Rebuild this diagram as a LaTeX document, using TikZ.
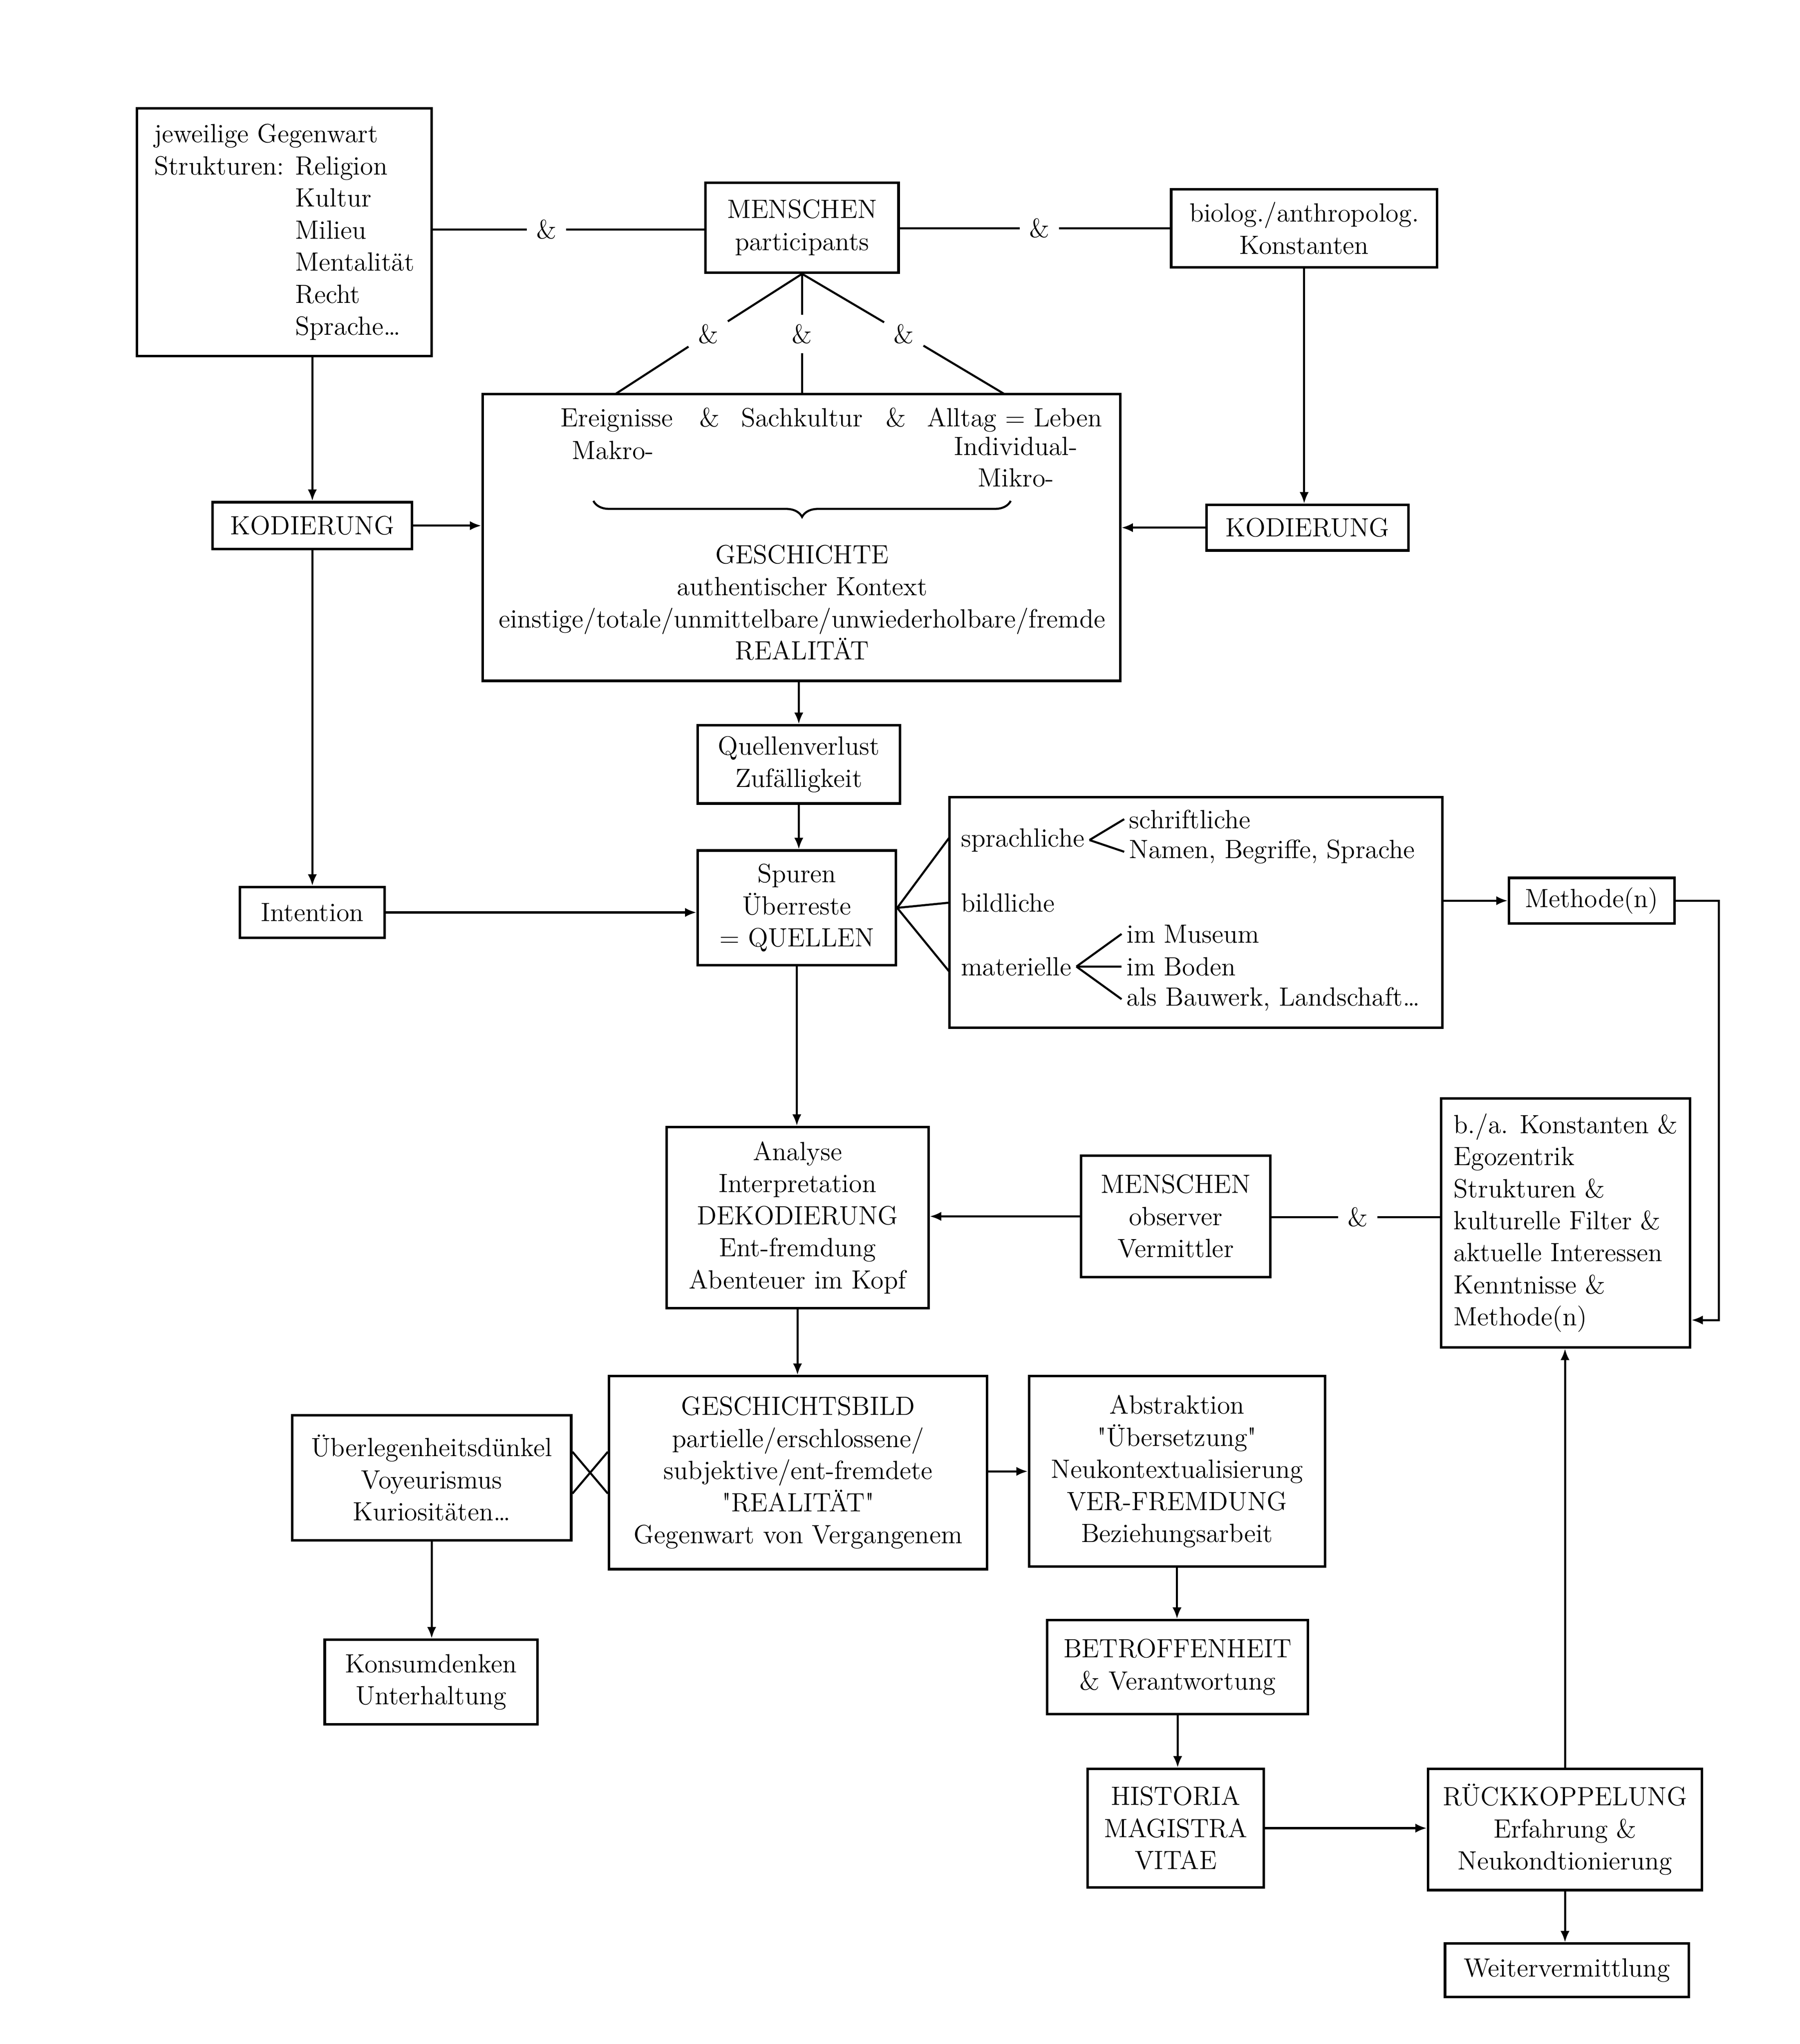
\documentclass[tikz,border=0pt]{standalone}
\usepackage{tikz}
\usetikzlibrary{calc,arrows.meta,decorations.pathreplacing}

\begin{document}
\begin{tikzpicture}[x=0.02cm, y=-0.02cm,
    box/.style={draw, line width=1.1pt, inner sep=0pt, align=center, font=\fontsize{11.5}{14}\selectfont},
    txt/.style={inner sep=2pt, font=\fontsize{11.5}{14}\selectfont},
    amp/.style={inner sep=4pt, font=\fontsize{11.5}{14}\selectfont},
    con/.style={line width=0.9pt},
    arr/.style={line width=0.9pt, -{Latex[length=5pt,width=4pt]}}]
  % frame
  \useasboundingbox (0,0) rectangle (1380,1567);
  % upper row
  \node[box, align=left, minimum width=4.52cm, minimum height=3.8cm] (gegenwart) at (218,178)
    {jeweilige Gegenwart\\Strukturen: Religion\\\phantom{Strukturen: }Kultur\\\phantom{Strukturen: }Milieu\\\phantom{Strukturen: }Mentalität\\\phantom{Strukturen: }Recht\\\phantom{Strukturen: }Sprache\dots};
  \node[box, minimum width=2.96cm, minimum height=1.38cm] (menschen1) at (615,174.5) {MENSCHEN\\participants};
  \node[box, minimum width=4.08cm, minimum height=1.2cm] (konstanten) at (1000,175) {biolog./anthropolog.\\Konstanten};
  \node[amp] (amp1) at (419,176) {\&};
  \node[amp] (amp2) at (797,175) {\&};
  \draw[con] (gegenwart.east |- amp1) -- (amp1) -- (amp1 -| menschen1.west);
  \draw[con] (menschen1.east |- amp2) -- (amp2) -- (amp2 -| konstanten.west);
  % geschichte
  \node[box, minimum width=9.78cm, minimum height=4.4cm] (geschichte) at (614.5,412) {};
  \coordinate (g-left) at (472,302);
  \coordinate (g-mid) at (615,302);
  \coordinate (g-right) at (770,302);
  \node[amp] (amp3) at (543,256) {\&};
  \node[amp] (amp4) at (615,256) {\&};
  \node[amp] (amp5) at (693,256) {\&};
  \draw[con] (menschen1.south) -- (amp3) -- (g-left);
  \draw[con] (menschen1.south) -- (amp4) -- (g-mid);
  \draw[con] (menschen1.south) -- (amp5) -- (g-right);
  \node[txt, anchor=base] (ereignisse) at (473,327) {Ereignisse};
  \node[txt, anchor=base] (amp6) at (544,327) {\&};
  \node[txt, anchor=base] (sachkultur) at (615,327) {Sachkultur};
  \node[txt, anchor=base] (amp7) at (687,327) {\&};
  \node[txt, anchor=base] (alltag) at (778,327) {Alltag = Leben};
  \node[txt, anchor=base] (makro) at (470,352) {Makro-};
  \node[txt, anchor=base] (individual) at (779,349) {Individual-};
  \node[txt, anchor=base] (mikro) at (779,373) {Mikro-};
  \coordinate (brace-l) at (455,384);
  \coordinate (brace-r) at (775,384);
  \draw[con, decorate, decoration={brace, mirror, amplitude=7pt}] (brace-l) -- (brace-r);
  \node[txt, align=center] (realitaet) at (615,462)
    {GESCHICHTE\\authentischer Kontext\\einstige/totale/unmittelbare/unwiederholbare/fremde\\REALITÄT};
  % kodierung
  \node[box, minimum width=3.06cm, minimum height=0.72cm] (kodL) at (239.5,403) {KODIERUNG};
  \node[box, minimum width=3.1cm, minimum height=0.7cm] (kodR) at (1002.5,404.5) {KODIERUNG};
  \draw[arr] (kodL.north |- gegenwart.south) -- (kodL.north);
  \draw[arr] (konstanten.south) -- (konstanten.south |- kodR.north);
  \draw[arr] (kodL.east) -- (kodL.east -| geschichte.west);
  \draw[arr] (kodR.west) -- (kodR.west -| geschichte.east);
  % quellen
  \node[box, minimum width=3.1cm, minimum height=1.2cm] (verlust) at (612.5,586) {Quellenverlust\\Zufälligkeit};
  \node[box, minimum width=3.04cm, minimum height=1.76cm] (spuren) at (611,696) {Spuren\\Überreste\\= QUELLEN};
  \node[box, minimum width=2.22cm, minimum height=0.78cm] (intention) at (239.5,699.5) {Intention};
  \draw[arr] (verlust.north |- geschichte.south) -- (verlust.north);
  \draw[arr] (verlust.south) -- (verlust.south |- spuren.north);
  \draw[arr] (kodL.south) -- (intention.north);
  \draw[arr] (intention.east) -- (intention.east -| spuren.west);
  % arten der quellen
  \node[box, minimum width=7.56cm, minimum height=3.54cm] (arten) at (917,699.5) {};
  \coordinate (a-top) at (728,642);
  \coordinate (a-mid) at (728,692);
  \coordinate (a-bot) at (728,745);
  \draw[con] (spuren.east) -- (a-top);
  \draw[con] (spuren.east) -- (a-mid);
  \draw[con] (spuren.east) -- (a-bot);
  \node[txt, anchor=west] (sprachliche) at (733,644) {sprachliche};
  \node[txt, anchor=west] (schriftliche) at (862,628) {schriftliche};
  \node[txt, anchor=west] (namen) at (862,653) {Namen, Begriffe, Sprache};
  \node[txt, anchor=west] (bildliche) at (733,692) {bildliche};
  \node[txt, anchor=west] (materielle) at (733,741) {materielle};
  \node[txt, anchor=west] (museum) at (860,716) {im Museum};
  \node[txt, anchor=west] (boden) at (860,741) {im Boden};
  \node[txt, anchor=west] (bauwerk) at (860,766) {als Bauwerk, Landschaft\dots};
  \draw[con] (sprachliche.east) -- (schriftliche.west);
  \draw[con] (sprachliche.east) -- (namen.west);
  \draw[con] (materielle.east) -- (museum.west);
  \draw[con] (materielle.east) -- (boden.west);
  \draw[con] (materielle.east) -- (bauwerk.west);
  % methode
  \node[box, minimum width=2.54cm, minimum height=0.7cm] (methode) at (1220.5,690.5) {Methode(n)};
  \coordinate (m-right) at (1318,1012);
  \draw[arr] (arten.east |- methode.west) -- (methode.west);
  \node[box, align=left, minimum width=3.82cm, minimum height=3.82cm] (filter) at (1200.5,937.5)
    {b./a. Konstanten \&\\Egozentrik\\Strukturen \&\\kulturelle Filter \&\\aktuelle Interessen\\Kenntnisse \&\\Methode(n)};
  \draw[arr] (methode.east) -| (m-right) -- (m-right -| filter.east);
  % dekodierung
  \node[box, minimum width=4.02cm, minimum height=2.78cm] (dekodierung) at (611.5,933.5)
    {Analyse\\Interpretation\\DEKODIERUNG\\Ent-fremdung\\Abenteuer im Kopf};
  \node[box, minimum width=2.9cm, minimum height=1.86cm] (menschen2) at (901.5,932.5) {MENSCHEN\\observer\\Vermittler};
  \node[amp] (amp8) at (1041,933) {\&};
  \draw[arr] (spuren.south) -- (spuren.south |- dekodierung.north);
  \draw[arr] (menschen2.west) -- (menschen2.west -| dekodierung.east);
  \draw[con] (menschen2.east |- amp8) -- (amp8) -- (amp8 -| filter.west);
  % geschichtsbild
  \node[box, minimum width=5.8cm, minimum height=2.96cm] (bild) at (612,1129)
    {GESCHICHTSBILD\\partielle/erschlossene/\\subjektive/ent-fremdete\\\textquotedbl REALITÄT\textquotedbl\\Gegenwart von Vergangenem};
  \node[box, minimum width=4.28cm, minimum height=1.92cm] (duenkel) at (331,1133)
    {Überlegenheitsdünkel\\Voyeurismus\\Kuriositäten\dots};
  \node[box, minimum width=3.26cm, minimum height=1.3cm] (konsum) at (330.5,1289.5) {Konsumdenken\\Unterhaltung};
  \draw[arr] (dekodierung.south) -- (dekodierung.south |- bild.north);
  \draw[con] ($(duenkel.east)+(0,-20)$) -- ($(bild.west)+(0,16)$);
  \draw[con] ($(duenkel.east)+(0,12)$) -- ($(bild.west)+(0,-16)$);
  \draw[arr] (duenkel.south) -- (duenkel.south |- konsum.north);
  % rechte spalte
  \node[box, minimum width=4.54cm, minimum height=2.92cm] (abstraktion) at (902.5,1128)
    {Abstraktion\\\textquotedbl Übersetzung\textquotedbl\\Neukontextualisierung\\VER-FREMDUNG\\Beziehungsarbeit};
  \node[box, minimum width=4cm, minimum height=1.44cm] (betroffen) at (903,1278) {BETROFFENHEIT\\\& Verantwortung};
  \node[box, minimum width=2.7cm, minimum height=1.82cm] (historia) at (901.5,1401.5) {HISTORIA\\MAGISTRA\\VITAE};
  \node[box, minimum width=4.2cm, minimum height=1.86cm] (rueck) at (1200,1402.5) {RÜCKKOPPELUNG\\Erfahrung \&\\Neukondtionierung};
  \node[box, minimum width=3.74cm, minimum height=0.82cm] (weiter) at (1201.5,1510.5) {Weitervermittlung};
  \draw[arr] (bild.east |- abstraktion.west) -- (abstraktion.west);
  \draw[arr] (abstraktion.south) -- (abstraktion.south |- betroffen.north);
  \draw[arr] (betroffen.south) -- (betroffen.south |- historia.north);
  \draw[arr] (historia.east) -- (historia.east -| rueck.west);
  \draw[arr] (rueck.north) -- (rueck.north |- filter.south);
  \draw[arr] (rueck.south) -- (rueck.south |- weiter.north);
\end{tikzpicture}
\end{document}
